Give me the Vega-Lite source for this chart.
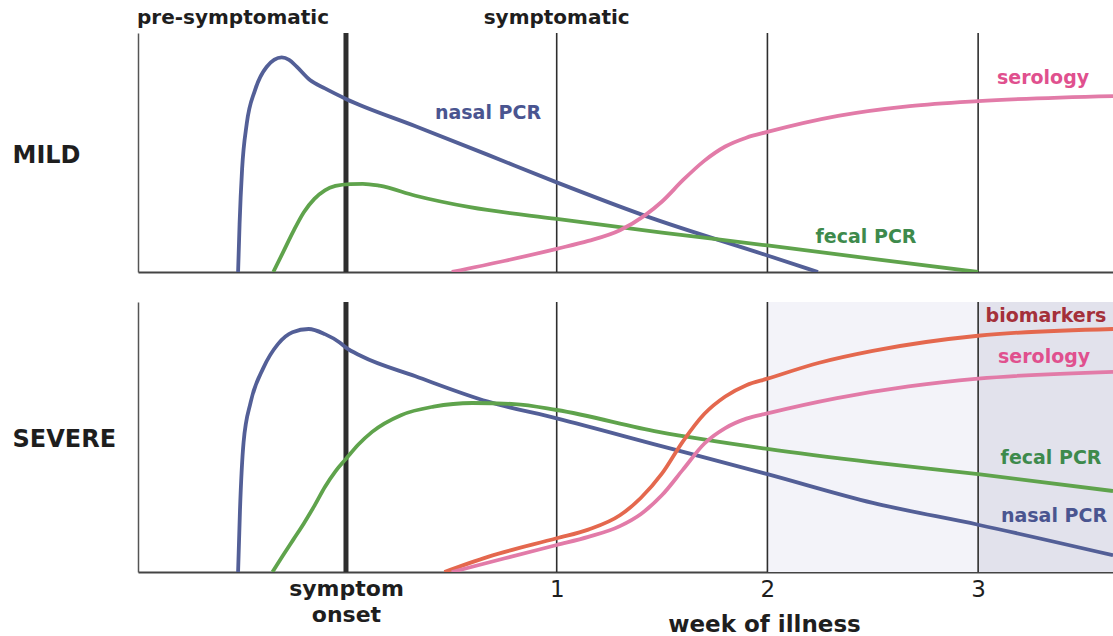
{
  "$schema": "https://vega.github.io/schema/vega-lite/v6.json",
  "autosize": {"type": "pad"},
  "padding": {"left": 12, "top": 8, "right": 0, "bottom": 0},
  "background": "white",
  "spacing": 24,
  "config": {
    "view": {"stroke": null},
    "font": "DejaVu Sans",
    "text": {"font": "DejaVu Sans", "fontWeight": "bold"},
    "axis": {"grid": false}
  },
  "datasets": {
    "weeks": [{"w": 0}, {"w": 1}, {"w": 2}, {"w": 3}],
    "shade": [
      {"x0": 2, "x1": 3, "level": "light"},
      {"x0": 3, "x1": 3.64, "level": "dark"}
    ],
    "headers": [
      {"w": -0.536, "text": "pre-symptomatic"},
      {"w": 1, "text": "symptomatic"}
    ],
    "labels": [
      {"p": "mild", "s": "nasal PCR", "w": 0.674, "v": 66.5},
      {"p": "mild", "s": "fecal PCR", "w": 2.468, "v": 14.6},
      {"p": "mild", "s": "serology", "w": 3.308, "v": 81.2},
      {"p": "severe", "s": "biomarkers", "w": 3.322, "v": 94.8},
      {"p": "severe", "s": "serology", "w": 3.313, "v": 79.6},
      {"p": "severe", "s": "fecal PCR", "w": 3.346, "v": 42.2},
      {"p": "severe", "s": "nasal PCR", "w": 3.36, "v": 20.7}
    ],
    "curves": [
      {"p": "mild", "s": "nasal PCR", "w": -0.512, "v": 0},
      {"p": "mild", "s": "nasal PCR", "w": -0.505, "v": 20},
      {"p": "mild", "s": "nasal PCR", "w": -0.493, "v": 43},
      {"p": "mild", "s": "nasal PCR", "w": -0.471, "v": 62},
      {"p": "mild", "s": "nasal PCR", "w": -0.432, "v": 76},
      {"p": "mild", "s": "nasal PCR", "w": -0.376, "v": 85.9},
      {"p": "mild", "s": "nasal PCR", "w": -0.305, "v": 89.8},
      {"p": "mild", "s": "nasal PCR", "w": -0.27, "v": 88.8},
      {"p": "mild", "s": "nasal PCR", "w": -0.234, "v": 85.9},
      {"p": "mild", "s": "nasal PCR", "w": -0.171, "v": 80.3},
      {"p": "mild", "s": "nasal PCR", "w": -0.1, "v": 76.8},
      {"p": "mild", "s": "nasal PCR", "w": 0, "v": 72.4},
      {"p": "mild", "s": "nasal PCR", "w": 0.33, "v": 61},
      {"p": "mild", "s": "nasal PCR", "w": 0.674, "v": 49},
      {"p": "mild", "s": "nasal PCR", "w": 1, "v": 37.5},
      {"p": "mild", "s": "nasal PCR", "w": 1.417, "v": 23.6},
      {"p": "mild", "s": "nasal PCR", "w": 2, "v": 6.9},
      {"p": "mild", "s": "nasal PCR", "w": 2.24, "v": 0},
      {"p": "mild", "s": "fecal PCR", "w": -0.345, "v": 0},
      {"p": "mild", "s": "fecal PCR", "w": -0.3, "v": 8},
      {"p": "mild", "s": "fecal PCR", "w": -0.25, "v": 17},
      {"p": "mild", "s": "fecal PCR", "w": -0.2, "v": 25},
      {"p": "mild", "s": "fecal PCR", "w": -0.15, "v": 30.6},
      {"p": "mild", "s": "fecal PCR", "w": -0.1, "v": 34.2},
      {"p": "mild", "s": "fecal PCR", "w": -0.05, "v": 36},
      {"p": "mild", "s": "fecal PCR", "w": 0.02, "v": 36.8},
      {"p": "mild", "s": "fecal PCR", "w": 0.08, "v": 36.9},
      {"p": "mild", "s": "fecal PCR", "w": 0.158, "v": 36.1},
      {"p": "mild", "s": "fecal PCR", "w": 0.33, "v": 31.9},
      {"p": "mild", "s": "fecal PCR", "w": 0.588, "v": 27.1},
      {"p": "mild", "s": "fecal PCR", "w": 1, "v": 22.2},
      {"p": "mild", "s": "fecal PCR", "w": 1.5, "v": 16.5},
      {"p": "mild", "s": "fecal PCR", "w": 2, "v": 11.1},
      {"p": "mild", "s": "fecal PCR", "w": 2.5, "v": 5.5},
      {"p": "mild", "s": "fecal PCR", "w": 3, "v": 0},
      {"p": "mild", "s": "serology", "w": 0.502, "v": 0},
      {"p": "mild", "s": "serology", "w": 0.75, "v": 4.6},
      {"p": "mild", "s": "serology", "w": 1, "v": 9.7},
      {"p": "mild", "s": "serology", "w": 1.15, "v": 13},
      {"p": "mild", "s": "serology", "w": 1.3, "v": 17.5},
      {"p": "mild", "s": "serology", "w": 1.417, "v": 23.6},
      {"p": "mild", "s": "serology", "w": 1.5, "v": 29.5},
      {"p": "mild", "s": "serology", "w": 1.6, "v": 38.5},
      {"p": "mild", "s": "serology", "w": 1.7, "v": 46.5},
      {"p": "mild", "s": "serology", "w": 1.8, "v": 52.5},
      {"p": "mild", "s": "serology", "w": 1.9, "v": 56.2},
      {"p": "mild", "s": "serology", "w": 2, "v": 58.6},
      {"p": "mild", "s": "serology", "w": 2.335, "v": 65.3},
      {"p": "mild", "s": "serology", "w": 2.675, "v": 69.4},
      {"p": "mild", "s": "serology", "w": 3, "v": 71.5},
      {"p": "mild", "s": "serology", "w": 3.64, "v": 73.6},
      {"p": "severe", "s": "nasal PCR", "w": -0.512, "v": 0},
      {"p": "severe", "s": "nasal PCR", "w": -0.503, "v": 23},
      {"p": "severe", "s": "nasal PCR", "w": -0.486, "v": 48},
      {"p": "severe", "s": "nasal PCR", "w": -0.452, "v": 63},
      {"p": "severe", "s": "nasal PCR", "w": -0.392, "v": 75.6},
      {"p": "severe", "s": "nasal PCR", "w": -0.323, "v": 84.4},
      {"p": "severe", "s": "nasal PCR", "w": -0.254, "v": 88.8},
      {"p": "severe", "s": "nasal PCR", "w": -0.177, "v": 90},
      {"p": "severe", "s": "nasal PCR", "w": -0.1, "v": 88.1},
      {"p": "severe", "s": "nasal PCR", "w": -0.03, "v": 85},
      {"p": "severe", "s": "nasal PCR", "w": 0, "v": 83.1},
      {"p": "severe", "s": "nasal PCR", "w": 0.072, "v": 80},
      {"p": "severe", "s": "nasal PCR", "w": 0.33, "v": 72.5},
      {"p": "severe", "s": "nasal PCR", "w": 0.674, "v": 63.1},
      {"p": "severe", "s": "nasal PCR", "w": 1, "v": 56.9},
      {"p": "severe", "s": "nasal PCR", "w": 1.483, "v": 46.9},
      {"p": "severe", "s": "nasal PCR", "w": 2, "v": 36.25},
      {"p": "severe", "s": "nasal PCR", "w": 2.5, "v": 25.6},
      {"p": "severe", "s": "nasal PCR", "w": 3, "v": 17.5},
      {"p": "severe", "s": "nasal PCR", "w": 3.64, "v": 6.2},
      {"p": "severe", "s": "fecal PCR", "w": -0.349, "v": 0},
      {"p": "severe", "s": "fecal PCR", "w": -0.3, "v": 6},
      {"p": "severe", "s": "fecal PCR", "w": -0.25, "v": 12},
      {"p": "severe", "s": "fecal PCR", "w": -0.2, "v": 18},
      {"p": "severe", "s": "fecal PCR", "w": -0.15, "v": 24.5},
      {"p": "severe", "s": "fecal PCR", "w": -0.1, "v": 31.5},
      {"p": "severe", "s": "fecal PCR", "w": -0.05, "v": 37.3},
      {"p": "severe", "s": "fecal PCR", "w": 0, "v": 41.9},
      {"p": "severe", "s": "fecal PCR", "w": 0.06, "v": 47.3},
      {"p": "severe", "s": "fecal PCR", "w": 0.124, "v": 51.9},
      {"p": "severe", "s": "fecal PCR", "w": 0.261, "v": 58.1},
      {"p": "severe", "s": "fecal PCR", "w": 0.416, "v": 61.25},
      {"p": "severe", "s": "fecal PCR", "w": 0.6, "v": 62.6},
      {"p": "severe", "s": "fecal PCR", "w": 0.8, "v": 62.2},
      {"p": "severe", "s": "fecal PCR", "w": 1, "v": 60},
      {"p": "severe", "s": "fecal PCR", "w": 1.483, "v": 51.9},
      {"p": "severe", "s": "fecal PCR", "w": 2, "v": 45.6},
      {"p": "severe", "s": "fecal PCR", "w": 2.5, "v": 40.6},
      {"p": "severe", "s": "fecal PCR", "w": 3, "v": 36.25},
      {"p": "severe", "s": "fecal PCR", "w": 3.64, "v": 30},
      {"p": "severe", "s": "biomarkers", "w": 0.467, "v": 0},
      {"p": "severe", "s": "biomarkers", "w": 0.674, "v": 5.6},
      {"p": "severe", "s": "biomarkers", "w": 1, "v": 12.5},
      {"p": "severe", "s": "biomarkers", "w": 1.15, "v": 15.7},
      {"p": "severe", "s": "biomarkers", "w": 1.3, "v": 21},
      {"p": "severe", "s": "biomarkers", "w": 1.4, "v": 27.5},
      {"p": "severe", "s": "biomarkers", "w": 1.5, "v": 36.5},
      {"p": "severe", "s": "biomarkers", "w": 1.6, "v": 48.5},
      {"p": "severe", "s": "biomarkers", "w": 1.7, "v": 58.5},
      {"p": "severe", "s": "biomarkers", "w": 1.8, "v": 65},
      {"p": "severe", "s": "biomarkers", "w": 1.9, "v": 69.2},
      {"p": "severe", "s": "biomarkers", "w": 2, "v": 71.6},
      {"p": "severe", "s": "biomarkers", "w": 2.246, "v": 77.5},
      {"p": "severe", "s": "biomarkers", "w": 2.5, "v": 81.9},
      {"p": "severe", "s": "biomarkers", "w": 3, "v": 87.5},
      {"p": "severe", "s": "biomarkers", "w": 3.64, "v": 90},
      {"p": "severe", "s": "serology", "w": 0.502, "v": 0},
      {"p": "severe", "s": "serology", "w": 0.75, "v": 5},
      {"p": "severe", "s": "serology", "w": 1, "v": 10},
      {"p": "severe", "s": "serology", "w": 1.15, "v": 13},
      {"p": "severe", "s": "serology", "w": 1.3, "v": 17},
      {"p": "severe", "s": "serology", "w": 1.4, "v": 21.5},
      {"p": "severe", "s": "serology", "w": 1.5, "v": 28.5},
      {"p": "severe", "s": "serology", "w": 1.6, "v": 38},
      {"p": "severe", "s": "serology", "w": 1.7, "v": 47.5},
      {"p": "severe", "s": "serology", "w": 1.8, "v": 53.3},
      {"p": "severe", "s": "serology", "w": 1.9, "v": 56.8},
      {"p": "severe", "s": "serology", "w": 2, "v": 58.75},
      {"p": "severe", "s": "serology", "w": 2.33, "v": 64.4},
      {"p": "severe", "s": "serology", "w": 2.67, "v": 68.75},
      {"p": "severe", "s": "serology", "w": 3, "v": 71.6},
      {"p": "severe", "s": "serology", "w": 3.64, "v": 74.1}
    ]
  },
  "vconcat": [
    {
      "width": 975,
      "height": 239,
      "resolve": {"scale": {"color": "independent"}},
      "layer": [
        {
          "data": {"name": "weeks"},
          "mark": {"type": "rule", "color": "#2e2e2e"},
          "encoding": {
            "x": {"field": "w", "type": "quantitative", "scale": {"domain": [-0.987, 3.64], "nice": false, "zero": false},
              "axis": {"labels": false, "ticks": false, "title": null, "domainColor": "#444", "domainWidth": 2}},
            "strokeWidth": {"condition": {"test": "datum.w == 0", "value": 5}, "value": 1.6}
          }
        },
        {
          "data": {"name": "curves"},
          "transform": [{"filter": "datum.p == 'mild'"}],
          "mark": {"type": "line", "interpolate": "monotone", "strokeWidth": 3.8, "clip": true},
          "encoding": {
            "x": {"field": "w", "type": "quantitative"},
            "y": {"field": "v", "type": "quantitative", "scale": {"domain": [0, 100], "nice": false},
              "axis": {"labels": false, "ticks": false, "domainColor": "#555", "domainWidth": 1.5,
                "title": "MILD", "titleAngle": 0, "titleAlign": "left", "titleBaseline": "middle",
                "titleX": -126, "titleY": 122, "titleFontSize": 24, "titleFontWeight": "bold", "titleColor": "#1e1e1e", "titleFont": "DejaVu Sans"}},
            "color": {"field": "s", "type": "nominal", "legend": null,
              "scale": {"domain": ["nasal PCR", "fecal PCR", "serology", "biomarkers"], "range": ["#535f97", "#5fa34c", "#e27ba8", "#e4684e"]}},
            "detail": {"field": "s"}
          }
        },
        {
          "data": {"name": "labels"},
          "transform": [{"filter": "datum.p == 'mild'"}],
          "mark": {"type": "text", "fontSize": 19, "baseline": "middle", "align": "center"},
          "encoding": {
            "x": {"field": "w", "type": "quantitative"},
            "y": {"field": "v", "type": "quantitative"},
            "text": {"field": "s"},
            "color": {"field": "s", "type": "nominal", "legend": null,
              "scale": {"domain": ["nasal PCR", "fecal PCR", "serology", "biomarkers"], "range": ["#4a5590", "#3e8a4c", "#e0508e", "#a4303a"]}}
          }
        },
        {
          "data": {"name": "headers"},
          "mark": {"type": "text", "fontSize": 20, "baseline": "middle", "align": "center", "dy": -15, "color": "#1e1e1e"},
          "encoding": {
            "x": {"field": "w", "type": "quantitative"},
            "y": {"datum": 100},
            "text": {"field": "text"}
          }
        }
      ]
    },
    {
      "width": 975,
      "height": 270,
      "resolve": {"scale": {"color": "independent"}},
      "layer": [
        {
          "data": {"name": "shade"},
          "mark": {"type": "rect"},
          "encoding": {
            "x": {"field": "x0", "type": "quantitative", "scale": {"domain": [-0.987, 3.64], "nice": false, "zero": false},
              "axis": {"values": [0, 1, 2, 3], "format": "d", "ticks": false, "domainColor": "#444", "domainWidth": 2,
                "labelExpr": "datum.value == 0 ? ['symptom', 'onset'] : datum.label",
                "labelFontWeight": {"condition": {"test": "datum.value == 0", "value": "bold"}, "value": "normal"},
                "labelFontSize": {"condition": {"test": "datum.value == 0", "value": 22}, "value": 23},
                "labelLineHeight": 26, "labelPadding": 6, "labelColor": "#1e1e1e", "labelOverlap": false, "labelFont": "DejaVu Sans",
                "title": "week of illness", "titleFontSize": 23, "titleFontWeight": "bold", "titleColor": "#1e1e1e", "titleFont": "DejaVu Sans",
                "titleX": 626, "titleY": 52, "titleBaseline": "middle", "titleAlign": "center"}},
            "x2": {"field": "x1"},
            "color": {"field": "level", "type": "nominal", "legend": null,
              "scale": {"domain": ["light", "dark"], "range": ["#f3f3f9", "#e2e2ec"]}}
          }
        },
        {
          "data": {"name": "weeks"},
          "mark": {"type": "rule", "color": "#2e2e2e"},
          "encoding": {
            "x": {"field": "w", "type": "quantitative"},
            "strokeWidth": {"condition": {"test": "datum.w == 0", "value": 5}, "value": 1.6}
          }
        },
        {
          "data": {"name": "curves"},
          "transform": [{"filter": "datum.p == 'severe'"}],
          "mark": {"type": "line", "interpolate": "monotone", "strokeWidth": 3.8, "clip": true},
          "encoding": {
            "x": {"field": "w", "type": "quantitative"},
            "y": {"field": "v", "type": "quantitative", "scale": {"domain": [0, 100], "nice": false},
              "axis": {"labels": false, "ticks": false, "domainColor": "#555", "domainWidth": 1.5,
                "title": "SEVERE", "titleAngle": 0, "titleAlign": "left", "titleBaseline": "middle",
                "titleX": -126, "titleY": 137, "titleFontSize": 24, "titleFontWeight": "bold", "titleColor": "#1e1e1e", "titleFont": "DejaVu Sans"}},
            "color": {"field": "s", "type": "nominal", "legend": null,
              "scale": {"domain": ["nasal PCR", "fecal PCR", "serology", "biomarkers"], "range": ["#535f97", "#5fa34c", "#e27ba8", "#e4684e"]}},
            "detail": {"field": "s"}
          }
        },
        {
          "data": {"name": "labels"},
          "transform": [{"filter": "datum.p == 'severe'"}],
          "mark": {"type": "text", "fontSize": 19, "baseline": "middle", "align": "center"},
          "encoding": {
            "x": {"field": "w", "type": "quantitative"},
            "y": {"field": "v", "type": "quantitative"},
            "text": {"field": "s"},
            "color": {"field": "s", "type": "nominal", "legend": null,
              "scale": {"domain": ["nasal PCR", "fecal PCR", "serology", "biomarkers"], "range": ["#4a5590", "#3e8a4c", "#e0508e", "#a4303a"]}}
          }
        }
      ]
    }
  ]
}
